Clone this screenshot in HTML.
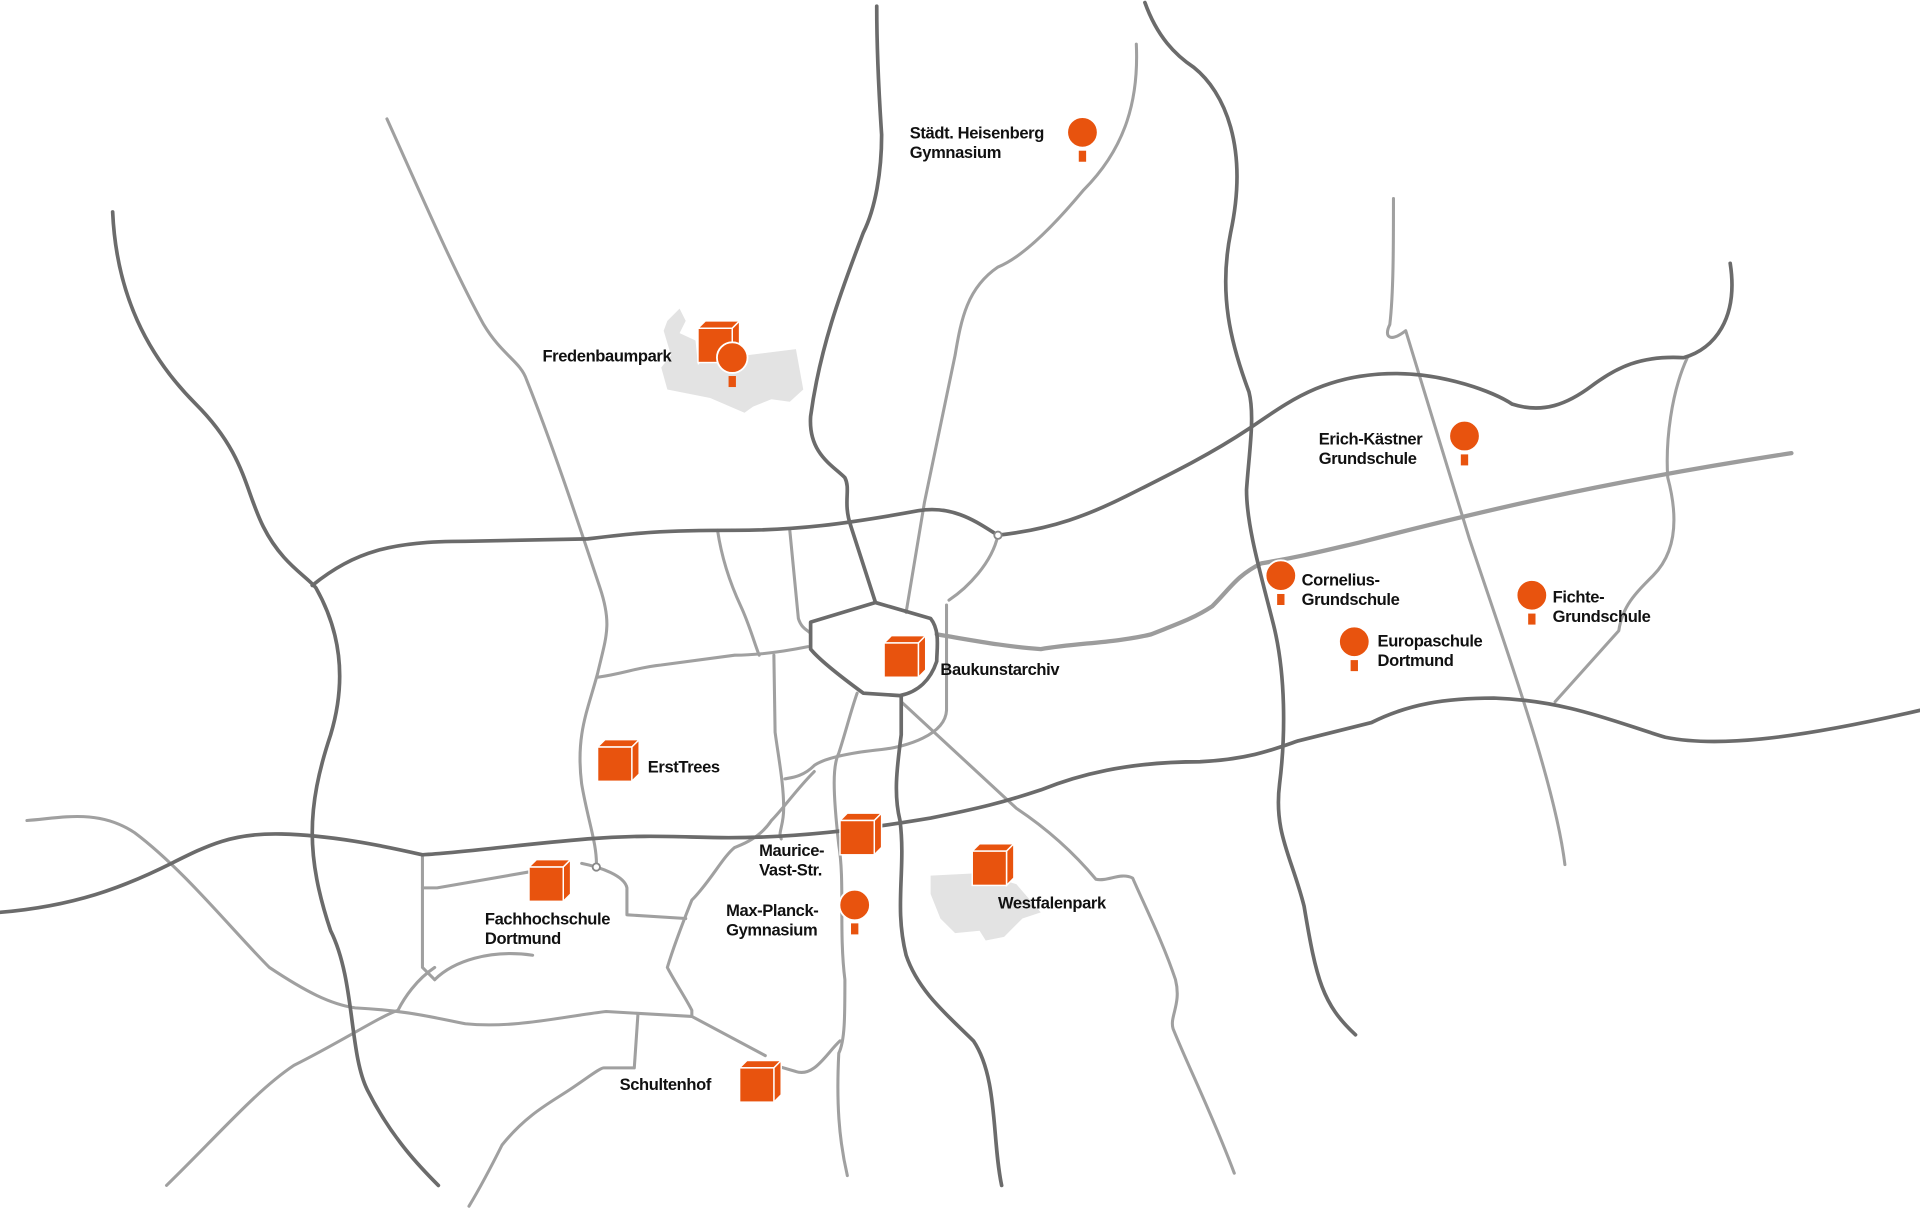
<!DOCTYPE html>
<html><head><meta charset="utf-8"><style>
html,body{margin:0;padding:0;background:#fff;}
svg{display:block;}
text{font-family:"Liberation Sans",sans-serif;font-weight:bold;font-size:13.5px;fill:#111;letter-spacing:-0.3px;}
</style></head><body>
<svg width="1920" height="1210" viewBox="0 0 1568 988" xmlns="http://www.w3.org/2000/svg">
<defs>
<g id="cube">
<path d="M0,6 L6,0 L34,0 L28,6 Z" fill="#e8530e" stroke="#fff" stroke-width="1.2"/>
<path d="M28,6 L34,0 L34,28 L28,34 Z" fill="#e8530e" stroke="#fff" stroke-width="1.2"/>
<rect x="0" y="6" width="28" height="28" fill="#e8530e" stroke="#fff" stroke-width="1.2"/>
</g>
<g id="pin">
<circle cx="0" cy="0" r="12.5" fill="#e8530e" stroke="#fff" stroke-width="1.5"/>
<rect x="-3" y="15" width="6" height="9" fill="#e8530e"/>
</g>
</defs>
<path d="M545,262 L555,252 L560,262 L555,272 L568,278 L570,298 L580,288 L610,290 L650,285 L656,318 L645,328 L630,326 L615,332 L608,337 L580,325 L545,318 L540,300 L548,290 L542,270 Z" fill="#e3e3e3"/>
<path d="M760,715 L800,713 L830,722 L850,745 L835,750 L820,765 L805,768 L800,760 L780,762 L768,750 L760,730 Z" fill="#e3e3e3"/>
<g fill="none" stroke="#a0a0a0" stroke-width="2.5" stroke-linecap="round" stroke-linejoin="round">
<path d="M316,97 C340,150 370,220 395,265 C410,290 425,295 430,310 C450,360 470,420 490,480 C500,510 495,520 488,550 C480,580 470,600 475,640 C480,670 488,690 487,708"/>
<path d="M928,36 C930,80 920,120 885,155 C860,185 835,210 815,218 C790,235 785,260 780,290 L755,410 L740,500"/>
<path d="M586,433 C590,460 598,480 605,495 C612,510 616,525 620,535"/>
<path d="M645,433 L652,505 C655,515 662,515 662,518"/>
<path d="M488,553 C510,550 520,545 540,543 L600,535 C620,535 640,532 660,528"/>
<path d="M632,535 L633,598 C636,620 640,640 640,660 C640,675 635,680 638,685"/>
<path d="M775,490 C790,480 810,460 815,437"/>
<path d="M773,494 L773,580 C772,600 740,610 720,612 C700,614 675,618 665,625 C655,635 645,635 641,636"/>
<path d="M736,573 L830,660 C860,680 880,700 895,718 C905,720 915,712 925,717 C935,740 950,770 960,800 C965,820 955,830 958,840 C970,870 990,910 1008,958"/>
<path d="M700,566 C695,580 690,600 685,615 C680,625 680,645 685,690 C690,720 685,760 690,800 C690,830 690,850 685,860 C683,900 685,930 692,960"/>
<path d="M686,850 C675,860 665,880 650,875 L633,870"/>
<path d="M665,630 C650,645 640,660 630,670 C620,685 605,690 600,692 C590,700 580,720 565,735 C555,760 548,780 545,790 C550,800 560,815 565,825 L565,830"/>
<path d="M345,700 L345,790 L355,800"/>
<path d="M345,725 L357,725 L432,712"/>
<path d="M475,705 C490,708 510,715 512,725 L512,747 L560,750"/>
<path d="M22,670 C50,668 80,660 110,680 C150,710 190,760 220,790 C250,810 270,820 290,823 C330,825 350,830 380,836 C420,840 460,830 495,826 L565,830 L625,862"/>
<path d="M355,800 C370,785 400,775 435,780"/>
<path d="M136,968 C180,925 210,890 240,870 C280,850 310,830 325,825 C330,815 340,800 355,790"/>
<path d="M383,985 C395,965 405,945 410,935 C430,910 450,900 465,890 C480,880 490,872 493,872 L518,872 L521,828"/>
<path d="M1138,162 C1138,200 1138,240 1135,265 C1130,275 1135,280 1148,270 L1200,440 C1230,530 1270,640 1278,706"/>
<path d="M1378,292 C1365,320 1360,360 1362,390 C1370,420 1370,450 1350,470 C1335,485 1325,495 1322,515 L1270,573"/>
<path d="M765,518 C790,522 820,528 850,530 C880,525 910,525 940,518 C960,510 975,505 990,495 C1005,480 1010,470 1030,460 C1060,455 1080,450 1110,443 C1200,420 1300,395 1463,370" stroke="#9c9c9c" stroke-width="3.5"/>
</g>
<g fill="none" stroke="#6b6b6b" stroke-width="3" stroke-linecap="round" stroke-linejoin="round">
<path d="M92,173 C95,240 120,290 160,330 C200,370 200,400 215,430 C230,460 250,470 258,480 C275,510 285,550 270,600 C250,660 250,700 270,760 C290,800 285,860 300,890 C320,930 345,955 358,968"/>
<path d="M255,478 C290,450 320,442 380,442 L480,440 C520,435 540,433 600,433 C650,433 690,428 750,417 C780,412 800,428 815,437 C860,432 890,420 920,405 C960,385 990,370 1020,350 C1050,330 1080,305 1140,305 C1180,305 1220,320 1235,330 C1260,338 1280,330 1300,315 C1320,300 1340,290 1375,292 C1400,285 1420,260 1413,215"/>
<path d="M662,508 L715,492 L760,505 C768,515 765,530 765,540 C760,555 750,565 735,568 L705,566 C690,555 670,540 662,530 Z"/>
<path d="M716,5 C716,40 718,80 720,110 C720,140 715,170 705,190 C690,230 670,280 662,340 C660,370 680,380 690,390 C695,400 688,410 695,430 L715,492"/>
<path d="M935,2 C945,30 960,45 975,55 C1000,75 1020,120 1005,190 C995,240 1005,280 1020,320 C1025,340 1020,370 1018,400 C1018,430 1030,470 1040,510 C1050,550 1050,600 1045,640 C1040,680 1055,700 1065,740 C1075,800 1080,820 1107,845"/>
<path d="M0,745 C60,740 100,725 140,705 C170,690 190,680 230,681 C270,682 310,690 345,698 C380,696 420,690 480,685 C530,681 560,684 595,684 C650,684 700,678 760,668 C800,660 820,655 850,645 C880,633 920,622 980,622 C1020,620 1040,612 1060,605 L1120,590 C1150,575 1180,570 1220,570 C1280,572 1320,590 1360,602 C1400,610 1460,605 1568,580"/>
<path d="M736,568 L736,600 C732,630 730,650 735,670 C740,710 730,740 740,780 C750,810 775,830 795,850 C815,880 810,930 818,968"/>
</g>
<circle cx="815" cy="437" r="3" fill="#fff" stroke="#888" stroke-width="1.5"/>
<circle cx="487" cy="708" r="3" fill="#fff" stroke="#888" stroke-width="1.5"/>
<use href="#cube" x="570" y="262"/>
<use href="#pin" x="598" y="292"/>
<use href="#cube" x="722" y="519"/>
<use href="#cube" x="488" y="604"/>
<use href="#cube" x="686" y="664"/>
<use href="#cube" x="432" y="702"/>
<use href="#cube" x="794" y="689"/>
<use href="#cube" x="604" y="866"/>
<use href="#pin" x="884" y="108"/>
<use href="#pin" x="1196" y="356"/>
<use href="#pin" x="1046" y="470"/>
<use href="#pin" x="1251" y="486"/>
<use href="#pin" x="1106" y="524"/>
<use href="#pin" x="698" y="739"/>
<text x="743" y="113">Städt. Heisenberg</text>
<text x="743" y="129">Gymnasium</text>
<text x="443" y="295">Fredenbaumpark</text>
<text x="1077" y="363">Erich-Kästner</text>
<text x="1077" y="379">Grundschule</text>
<text x="1063" y="478">Cornelius-</text>
<text x="1063" y="494">Grundschule</text>
<text x="1268" y="492">Fichte-</text>
<text x="1268" y="508">Grundschule</text>
<text x="1125" y="528">Europaschule</text>
<text x="1125" y="544">Dortmund</text>
<text x="768" y="551">Baukunstarchiv</text>
<text x="529" y="631">ErstTrees</text>
<text x="620" y="699">Maurice-</text>
<text x="620" y="715">Vast-Str.</text>
<text x="815" y="742">Westfalenpark</text>
<text x="396" y="755">Fachhochschule</text>
<text x="396" y="771">Dortmund</text>
<text x="593" y="748">Max-Planck-</text>
<text x="593" y="764">Gymnasium</text>
<text x="506" y="890">Schultenhof</text>
</svg>
</body></html>
